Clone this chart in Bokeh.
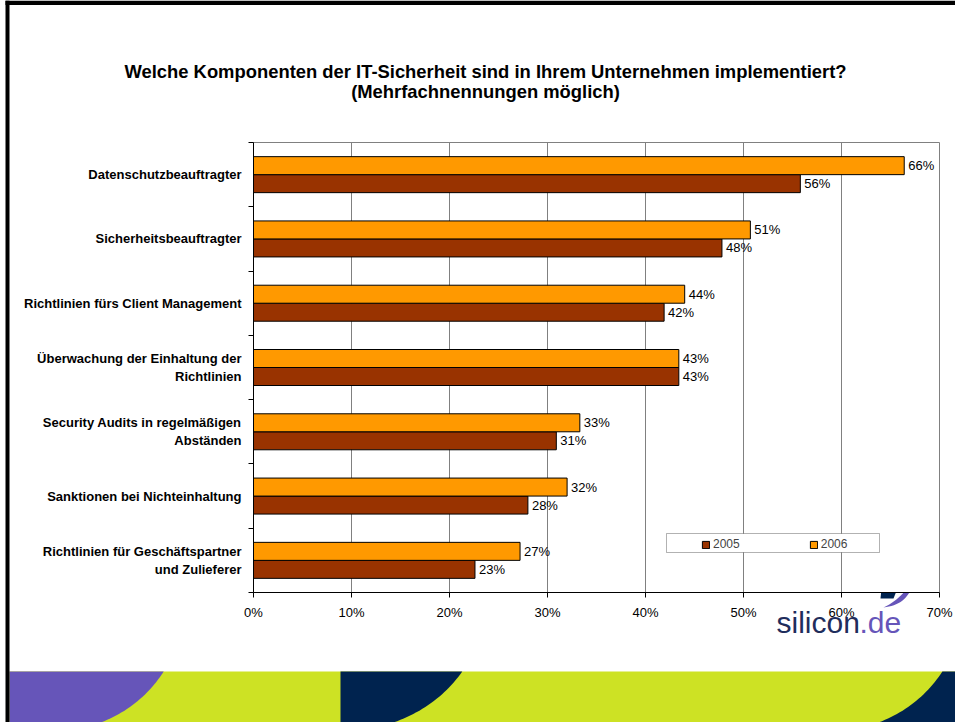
import numpy as np
from bokeh.plotting import figure
from bokeh.models import (Range1d, FixedTicker, PrintfTickFormatter, Legend, LegendItem,
                          ColumnDataSource, BoxAnnotation)
from bokeh.embed import file_html
from bokeh.resources import INLINE
from bokeh.core.properties import value

# ---------------- data ----------------
title_lines = ["Welche Komponenten der IT-Sicherheit sind in Ihrem Unternehmen implementiert?",
               "(Mehrfachnennungen möglich)"]
categories = ["Datenschutzbeauftragter",
              "Sicherheitsbeauftragter",
              "Richtlinien fürs Client Management",
              "Überwachung der Einhaltung der\nRichtlinien",
              "Security Audits in regelmäßigen\nAbständen",
              "Sanktionen bei Nichteinhaltung",
              "Richtlinien für Geschäftspartner\nund Zulieferer"]
series = ["2005", "2006"]
values_2005 = [55.8, 47.8, 41.9, 43.4, 30.9, 28.0, 22.6]
values_2006 = [66.4, 50.7, 44.0, 43.4, 33.3, 32.0, 27.2]
x_ticks = [0, 10, 20, 30, 40, 50, 60, 70]

COL_2005 = "#993300"
COL_2006 = "#FF9900"
FONT = "Liberation Sans"
LIME, PURPLE, NAVY = "#CDE224", "#6655B9", "#00234F"

W, H = 955, 722
PX0, PX1, PY0, PY1 = 253, 939, 142, 592     # plot area (pixels)
n = len(categories)

# =============== background slide (decoration) ===============
bg = figure(width=W, height=H, x_range=Range1d(0, W), y_range=Range1d(H, 0),
            toolbar_location=None, output_backend="svg",
            x_axis_location=None, y_axis_location=None, min_border=0)
bg.grid.visible = False
bg.outline_line_color = None
bg.background_fill_color = "white"
bg.border_fill_color = "white"

def arc(cx, cy, a, b, y0, y1, num=40):
    t0 = np.arcsin(np.clip((y0 - cy) / b, -1, 1))
    t1 = np.arcsin(np.clip((y1 - cy) / b, -1, 1))
    t = np.linspace(t0, t1, num)
    return list(cx + a * np.cos(t)), list(cy + b * np.sin(t))

BL, BT, BB = 9, 671, 730
bg.patch([BL, W, W, BL], [BT, BT, BB, BB], fill_color=LIME, line_color=None)
ax_, ay_ = arc(56, 600, 128, 130, BT, BB)
bg.patch([BL] + ax_ + [BL], [BT] + ay_ + [BB], fill_color=PURPLE, line_color=None)
ax_, ay_ = arc(344.5, 600, 140, 130, BT, BB)
bg.patch([340] + ax_ + [340], [BT] + ay_ + [BB], fill_color=NAVY, line_color=None)
ax_, ay_ = arc(833, 600, 130, 130, BT, BB)
bg.patch(ax_ + [W, W], ay_ + [BB, BT], fill_color=NAVY, line_color=None)

# slide border (top & left)
bg.patch([5, W, W, 5], [0, 0, 4.5, 4.5], fill_color="black", line_color=None)
bg.patch([5, 9, 9, 5], [0, 0, H, H], fill_color="black", line_color=None)

# title
bg.text(x=[485, 485], y=[71, 90.5], text=title_lines, text_align="center",
        text_baseline="middle", text_font=value(FONT), text_font_style="bold",
        text_font_size="18.4px", text_color="black")

# logo
def qbez(p0, p1, p2, num=20):
    t = np.linspace(0, 1, num)[:, None]
    pts = (1 - t) ** 2 * np.array(p0) + 2 * (1 - t) * t * np.array(p1) + t ** 2 * np.array(p2)
    return list(pts[:, 0]), list(pts[:, 1])

ox, oy = qbez((913, 578), (910, 604), (883, 607))
ix, iy = qbez((913, 578), (902, 598), (883, 607))
bg.patch(ox + ix[::-1], oy + iy[::-1], fill_color=PURPLE, line_color=None)
bg.patch([881, 897, 893, 880], [588, 588, 598, 598], fill_color=NAVY, line_color=None)
bg.text(x=[776], y=[622], text=["silicon"], text_align="left", text_baseline="middle",
        text_font=value(FONT), text_font_size="30px", text_color="#1F2D5C")
bg.text(x=[859], y=[622], text=[".de"], text_align="left", text_baseline="middle",
        text_font=value(FONT), text_font_size="30px", text_color=PURPLE)

# =============== main chart ===============
p = figure(width=W, height=H, x_range=Range1d(0, 70), y_range=Range1d(n, 0),
           toolbar_location=None, output_backend="svg",
           min_border_left=PX0, min_border_right=W - PX1,
           min_border_top=PY0, min_border_bottom=H - PY1)
p.background_fill_color = "white"
p.border_fill_alpha = 0.0
p.outline_line_color = "#808080"
p.outline_line_width = 1

idx = np.arange(n)
src05 = ColumnDataSource(dict(y=idx + 0.5 + 0.14, v=values_2005,
                              lab=[f"{round(v):d}%" for v in values_2005]))
src06 = ColumnDataSource(dict(y=idx + 0.5 - 0.14, v=values_2006,
                              lab=[f"{round(v):d}%" for v in values_2006]))

r05 = p.hbar(y="y", left=0, right="v", height=0.28, source=src05,
             fill_color=COL_2005, line_color="black", line_width=1)
r06 = p.hbar(y="y", left=0, right="v", height=0.28, source=src06,
             fill_color=COL_2006, line_color="black", line_width=1)
for s in (src05, src06):
    p.text(x="v", y="y", text="lab", source=s, x_offset=4,
           text_baseline="middle", text_align="left",
           text_font=value(FONT), text_font_size="13px", text_color="black")

xa = p.xaxis[0]
xa.ticker = FixedTicker(ticks=x_ticks, minor_ticks=[])
xa.formatter = PrintfTickFormatter(format="%d%%")
xa.major_tick_in = 0
xa.major_tick_out = 5
xa.minor_tick_out = 0
xa.axis_line_color = "black"
xa.major_tick_line_color = "black"
xa.major_label_text_font = FONT
xa.major_label_text_font_size = "13px"
xa.major_label_text_color = "black"
xa.major_label_standoff = 7

ya = p.yaxis[0]
ya.ticker = FixedTicker(ticks=[i + 0.5 for i in idx], minor_ticks=list(range(n + 1)))
ya.major_label_overrides = {float(i + 0.5): categories[i] for i in idx}
ya.major_tick_in = 0
ya.major_tick_out = 0
ya.minor_tick_in = 0
ya.minor_tick_out = 5
ya.minor_tick_line_color = "black"
ya.axis_line_color = "black"
ya.major_label_text_font = FONT
ya.major_label_text_font_style = "bold"
ya.major_label_text_font_size = "13px"
ya.major_label_text_color = "black"
ya.major_label_text_align = "center"
ya.major_label_standoff = 7

p.xgrid.ticker = FixedTicker(ticks=x_ticks[1:-1])
p.xgrid.grid_line_color = "#808080"
p.ygrid.visible = False

# legend: frame box + item row
LX0, LX1, LY0, LY1 = 666, 879, 533, 552
sx = 70.0 / (PX1 - PX0)
sy = n / (PY1 - PY0)
box = BoxAnnotation(left=(LX0 - PX0) * sx, right=(LX1 - PX0) * sx,
                    top=(LY0 - PY0) * sy, bottom=(LY1 - PY0) * sy,
                    fill_color="white", fill_alpha=1.0, line_color="black", line_width=1)
p.add_layout(box)
legend = Legend(items=[LegendItem(label=series[0], renderers=[r05]),
                       LegendItem(label=series[1], renderers=[r06])],
                orientation="horizontal", location=(448, 41), margin=0, padding=0,
                spacing=69, glyph_width=9, glyph_height=9, label_standoff=3,
                label_height=12, label_width=20,
                label_text_font=FONT, label_text_font_size="12px",
                border_line_alpha=0, background_fill_alpha=0)
p.add_layout(legend)

# two independent roots, stacked at the same spot (chart over slide background)
bg.styles = {"position": "absolute", "left": "0px", "top": "0px", "z-index": "0"}
p.styles = {"position": "absolute", "left": "0px", "top": "0px", "z-index": "1"}

open("out.html", "w").write(file_html([bg, p], INLINE))
